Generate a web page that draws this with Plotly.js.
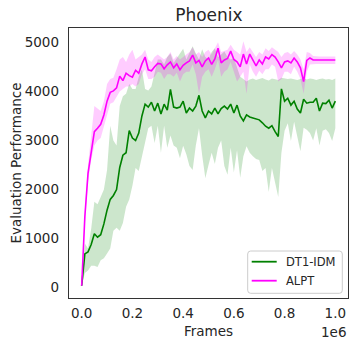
<!DOCTYPE html>
<html>
<head>
<meta charset="utf-8">
<script src="https://cdn.plot.ly/plotly-3.0.1.min.js"></script>
<style>html,body{margin:0;padding:0;background:#fff;}#chart{width:354px;height:345px;}</style>
</head>
<body>
<div id="chart"></div>
<script>
// Frames (x values)
const frames = [0,12500,25000,37500,50000,62500,75000,87500,100000,112500,125000,137500,150000,162500,175000,187500,200000,212500,225000,237500,250000,262500,275000,287500,300000,312500,325000,337500,350000,362500,375000,387500,400000,412500,425000,437500,450000,462500,475000,487500,500000,512500,525000,537500,550000,562500,575000,587500,600000,612500,625000,637500,650000,662500,675000,687500,700000,712500,725000,737500,750000,762500,775000,787500,800000,812500,825000,837500,850000,862500,875000,887500,900000,912500,925000,937500,950000,962500,975000,987500,1000000];

// DT1-IDM
const dtMean = [40,690,730,880,1100,1030,1080,1300,1580,1800,1880,2000,2450,2700,2750,3200,3050,3000,3150,3500,3740,3680,3780,3600,3760,3540,3740,3620,4040,3680,3660,3680,3800,3560,3660,3600,3700,3920,3600,3460,3600,3540,3660,3540,3650,3700,3640,3740,3560,3720,3500,3400,3520,3480,3460,3440,3420,3360,3290,3250,3300,3180,3080,4050,3800,3860,3720,3800,3640,3560,3840,3760,3780,3780,3860,3600,3760,3750,3820,3660,3800];
const dtUpper = [40,900,800,1200,1750,1700,1850,2000,2400,3300,3000,2900,3700,3900,3950,4150,4050,4050,4300,4450,4050,4020,4100,4400,4650,4650,4550,4700,4770,4580,4670,4770,4870,4650,4800,4920,4770,4650,4860,4700,4650,4800,4880,4700,4750,4810,4700,4650,4680,4500,4300,4250,4200,4240,4260,4230,4250,4270,4240,4220,4260,4250,4230,4280,4270,4250,4260,4240,4230,4250,4270,4240,4260,4250,4230,4250,4260,4240,4250,4230,4260];
const dtLower = [40,300,350,450,450,420,560,600,700,800,1160,1220,1160,1320,1650,1800,2080,2440,2380,2680,2950,3250,3300,2950,3300,2750,3300,2850,3100,2900,2850,2640,2890,2720,2480,2400,2900,3250,2700,2230,2500,2750,2520,2850,3000,2480,2300,2850,2350,2800,2240,2680,2880,2750,2680,2620,2600,2380,2440,1950,2440,2170,1850,2750,3200,3350,2990,3380,3100,2780,3260,3220,3150,3000,3250,2900,3200,3230,3150,2990,3250];

// ALPT
const alMean = [40,1450,2330,2800,3180,3250,3330,3520,3800,3980,4010,4070,4310,4220,4370,4320,4290,4430,4370,4560,4700,4440,4420,4500,4570,4560,4460,4540,4600,4480,4560,4440,4530,4580,4620,4740,4580,4630,4500,4620,4680,4550,4660,4880,4580,4640,4670,4820,4650,4600,4500,4760,4560,4760,4630,4520,4640,4560,4700,4660,4750,4700,4600,4480,4600,4620,4580,4680,4600,4480,4200,4630,4680,4640,4640,4640,4640,4640,4640,4640,4640];
const alUpper = [40,1600,2500,3050,3700,3650,3600,3800,4150,4250,4280,4450,4650,4700,4600,4750,4850,4650,4700,4750,4850,4650,4600,4700,4750,4700,4650,4700,4800,4650,4720,4650,4700,4750,4800,4900,4750,4800,4700,4800,4850,4750,4880,5000,4800,4820,4850,4950,4850,4800,4750,5020,4800,4900,4800,4700,4800,4750,4880,4820,4900,4850,4800,4700,4780,4800,4750,4820,4750,4650,4450,4800,4780,4720,4710,4710,4710,4710,4710,4710,4710];
const alLower = [40,1300,2150,2600,2900,3000,3050,3300,3500,3750,3780,3880,4000,4050,4100,4100,4150,4100,4150,4350,4450,4250,4250,4300,4400,4380,4250,4350,4350,4300,4380,4200,4350,4400,4400,4550,4350,3950,4300,4400,4450,4300,4450,4650,4300,4400,4450,4600,4400,4200,4300,4400,3950,4550,4400,4300,4420,4350,4450,4450,4550,4500,4200,4250,4400,4400,4350,4500,4400,4250,3950,4400,4550,4560,4560,4560,4560,4560,4560,4560,4560];

const seriesNames = ['DT1-IDM', 'ALPT'];
const seriesColors = ['#008000', '#ff00ff'];
const bandColors = ['rgba(0,128,0,0.2)', 'rgba(255,0,255,0.2)'];

const xTickVals = [0,200000,400000,600000,800000,1000000];
const xTickText = ['0.0','0.2','0.4','0.6','0.8','1.0'];
const yTickVals = [0,1000,2000,3000,4000,5000];
const yTickText = ['0','1000','2000','3000','4000','5000'];

const txt = '#262626';
const font = 'DejaVu Sans, sans-serif';

const traces = [
  {x: frames, y: dtLower, mode: 'lines', line: {width: 0, color: 'rgba(0,0,0,0)'}, showlegend: false, hoverinfo: 'skip'},
  {x: frames, y: dtUpper, mode: 'lines', line: {width: 0, color: 'rgba(0,0,0,0)'}, fill: 'tonexty', fillcolor: bandColors[0], showlegend: false, hoverinfo: 'skip'},
  {x: frames, y: dtMean, mode: 'lines', name: seriesNames[0], line: {color: seriesColors[0], width: 1.6}, showlegend: false},
  {x: frames, y: alLower, mode: 'lines', line: {width: 0, color: 'rgba(0,0,0,0)'}, showlegend: false, hoverinfo: 'skip'},
  {x: frames, y: alUpper, mode: 'lines', line: {width: 0, color: 'rgba(0,0,0,0)'}, fill: 'tonexty', fillcolor: bandColors[1], showlegend: false, hoverinfo: 'skip'},
  {x: frames, y: alMean, mode: 'lines', name: seriesNames[1], line: {color: seriesColors[1], width: 1.6}, showlegend: false}
];

// Legend box (paper coords of the plotting area), drawn as shapes + text
const plotW = 354 - 69 - 6, plotH = 345 - 28 - 47;
const px = v => (v - 69) / plotW;
const py = v => (298 - v) / plotH;
const bx0 = px(247.7), bx1 = px(342.3), by0 = py(293.3), by1 = py(251);
const rx = 3 / plotW, ry = 3 / plotH;
const boxPath = `M ${bx0 + rx},${by0} L ${bx1 - rx},${by0} Q ${bx1},${by0} ${bx1},${by0 + ry} L ${bx1},${by1 - ry} Q ${bx1},${by1} ${bx1 - rx},${by1} L ${bx0 + rx},${by1} Q ${bx0},${by1} ${bx0},${by1 - ry} L ${bx0},${by0 + ry} Q ${bx0},${by0} ${bx0 + rx},${by0} Z`;
const rowY = [py(261.7), py(280.7)];

const shapes = [
  {type: 'path', xref: 'paper', yref: 'paper', path: boxPath, fillcolor: 'rgba(255,255,255,0.8)', line: {color: '#cccccc', width: 1}}
];
const annotations = [
  {text: '1e6', xref: 'paper', yref: 'paper', x: 1.0, y: 0, xanchor: 'right', yanchor: 'top', yshift: -24, showarrow: false, font: {size: 13.5, color: txt}}
];
seriesNames.forEach((n, i) => {
  shapes.push({type: 'line', xref: 'paper', yref: 'paper', x0: px(251.7), x1: px(276.7), y0: rowY[i], y1: rowY[i], line: {color: seriesColors[i], width: 1.8}});
  annotations.push({text: n, xref: 'paper', yref: 'paper', x: px(284), y: rowY[i], xanchor: 'left', yanchor: 'middle', showarrow: false, font: {size: 11.5, color: txt}});
});

const layout = {
  width: 354, height: 345,
  margin: {l: 69, r: 6, t: 28, b: 47},
  paper_bgcolor: '#fff', plot_bgcolor: '#fff',
  font: {family: font, color: txt, size: 13.5},
  title: {text: 'Phoenix', font: {family: font, size: 17, color: txt}, x: 0.59, xanchor: 'center', y: 0.956, yanchor: 'middle'},
  xaxis: {
    range: [-50000, 1050000], tickvals: xTickVals, ticktext: xTickText,
    showgrid: false, zeroline: false, showline: true, mirror: true, linecolor: '#333', linewidth: 1.25,
    ticks: '', ticklabelstandoff: 3, tickfont: {size: 13.5, color: txt},
    title: {text: 'Frames', font: {size: 13.5, color: txt}, standoff: 6}
  },
  yaxis: {
    range: [-209, 5291], tickvals: yTickVals, ticktext: yTickText,
    showgrid: false, zeroline: false, showline: true, mirror: true, linecolor: '#333', linewidth: 1.25,
    ticks: '', ticklabelstandoff: 6, tickfont: {size: 13.5, color: txt},
    title: {text: 'Evaluation Performance', font: {size: 13.5, color: txt}, standoff: 0}
  },
  shapes: shapes,
  annotations: annotations,
  showlegend: false
};

Plotly.newPlot('chart', traces, layout, {staticPlot: true, displayModeBar: false});
</script>
</body>
</html>
